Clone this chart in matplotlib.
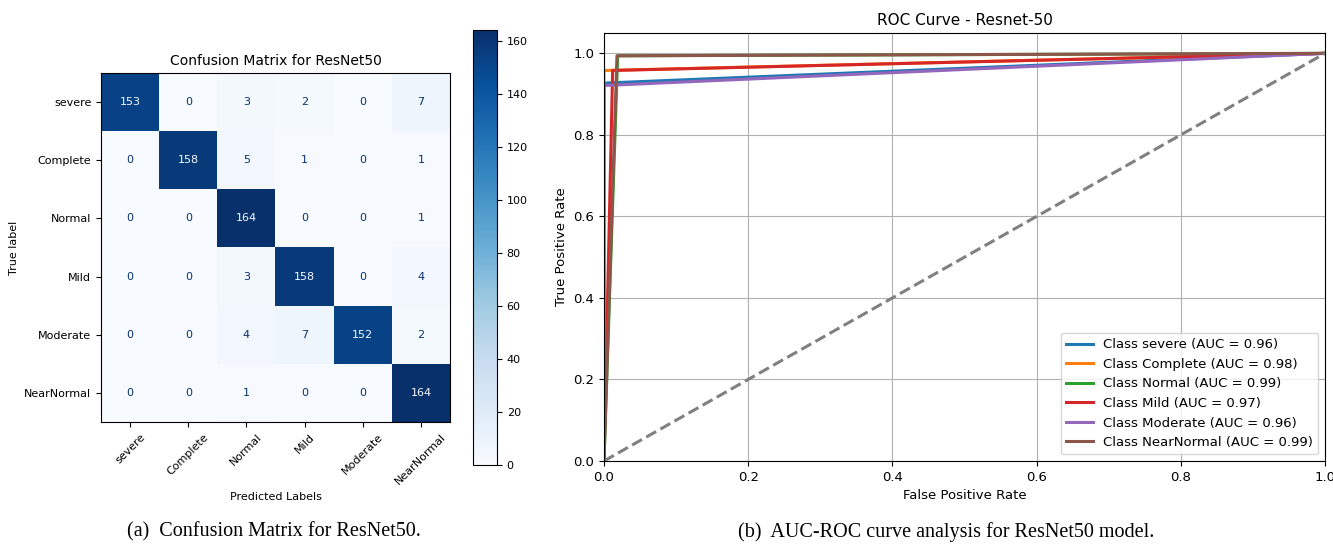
import numpy as np
import matplotlib
matplotlib.use("Agg")
import matplotlib.pyplot as plt

classes = ["severe", "Complete", "Normal", "Mild", "Moderate", "NearNormal"]
conf = [
    [153, 0, 3, 2, 0, 7],
    [0, 158, 5, 1, 0, 1],
    [0, 0, 164, 0, 0, 1],
    [0, 0, 3, 158, 0, 4],
    [0, 0, 4, 7, 152, 2],
    [0, 0, 1, 0, 0, 164],
]

# one-vs-rest ROC points per class (fpr, tpr)
roc_fpr = [
    [0.0, 0.0, 1.0],
    [0.0, 0.0, 1.0],
    [0.0, 0.019, 1.0],
    [0.0, 0.012, 1.0],
    [0.0, 0.0, 1.0],
    [0.0, 0.018, 1.0],
]
roc_tpr = [
    [0.0, 0.927, 1.0],
    [0.0, 0.958, 1.0],
    [0.0, 0.994, 1.0],
    [0.0, 0.958, 1.0],
    [0.0, 0.921, 1.0],
    [0.0, 0.994, 1.0],
]
auc = [0.96, 0.98, 0.99, 0.97, 0.96, 0.99]

fig = plt.figure(figsize=(13.33, 5.44), dpi=100)

# --- confusion matrix ---
cm = np.array(conf)
cmap = plt.get_cmap("Blues")
ax1 = fig.add_axes([0.0758, 0.2243, 0.2618, 0.6415])
im = ax1.imshow(cm, cmap=cmap, interpolation="nearest", aspect="auto")
thresh = (cm.max() + cm.min()) / 2.0
for i in range(cm.shape[0]):
    for j in range(cm.shape[1]):
        col = cmap(0.0) if cm[i, j] >= thresh else cmap(1.0)
        ax1.text(j, i, str(cm[i, j]), ha="center", va="center", color=col, fontsize=8)
ax1.set_xticks(range(len(classes)))
ax1.set_yticks(range(len(classes)))
ax1.set_xticklabels(classes, rotation=45, fontsize=8)
ax1.set_yticklabels(classes, fontsize=8)
ax1.set_xlabel("Predicted Labels", fontsize=8)
ax1.set_ylabel("True label", fontsize=8)
ax1.set_title("Confusion Matrix for ResNet50", fontsize=10)

cax = fig.add_axes([0.3548, 0.1452, 0.018, 0.7996])
cb = fig.colorbar(im, cax=cax)
cb.set_ticks([0, 20, 40, 60, 80, 100, 120, 140, 160])
cb.ax.tick_params(labelsize=8)

# --- ROC curves ---
colors = ["#1f77b4", "#ff7f0e", "#2ca02c", "#d62728", "#9467bd", "#8c564b"]
ax2 = fig.add_axes([0.4531, 0.1526, 0.5409, 0.7868])
for k in range(len(classes)):
    ax2.plot(roc_fpr[k], roc_tpr[k], color=colors[k], lw=2.2,
             label="Class {} (AUC = {:.2f})".format(classes[k], auc[k]))
ax2.plot([0, 1], [0, 1], color="gray", lw=2.2, ls="--")
ax2.set_xlim([0.0, 1.0])
ax2.set_ylim([0.0, 1.05])
ax2.set_xlabel("False Positive Rate", fontsize=9.5)
ax2.set_ylabel("True Positive Rate", fontsize=9.5)
ax2.set_title("ROC Curve - Resnet-50", fontsize=11)
ax2.tick_params(labelsize=9.5)
ax2.grid(True)
ax2.legend(loc="lower right", fontsize=9.5)

# subcaptions
fig.text(0.2055, 0.004, "(a)  Confusion Matrix for ResNet50.", ha="center", va="bottom",
         family="Liberation Serif", fontsize=14.5)
fig.text(0.7097, 0.004, "(b)  AUC-ROC curve analysis for ResNet50 model.", ha="center", va="bottom",
         family="Liberation Serif", fontsize=14.5)

fig.savefig("out.png", dpi=100)
